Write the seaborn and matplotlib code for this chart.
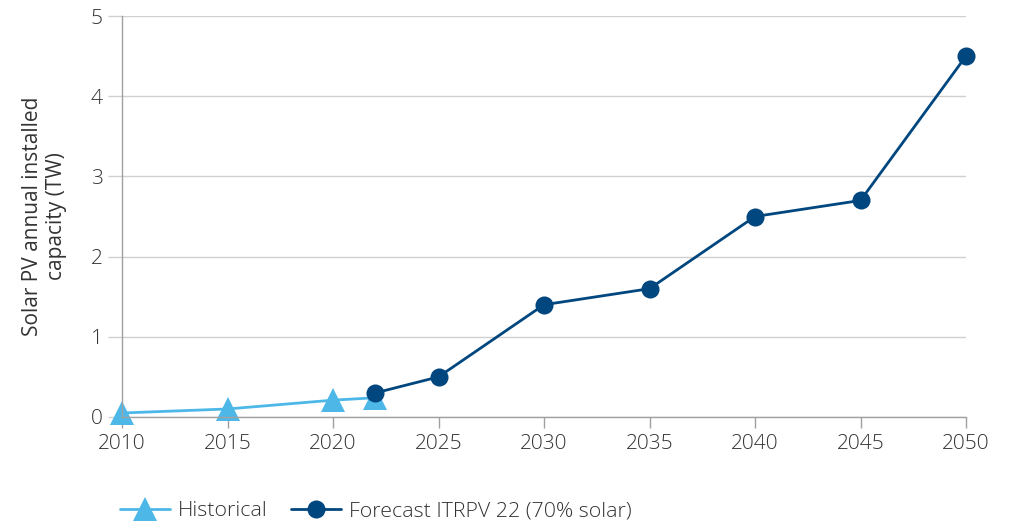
import seaborn as sns
import matplotlib.pyplot as plt
import pandas as pd

# valores
hist_years = [2010, 2015, 2020, 2022]
hist_tw = [0.05, 0.1, 0.21, 0.24]
fc_years = [2022, 2025, 2030, 2035, 2040, 2045, 2050]
fc_tw = [0.3, 0.5, 1.4, 1.6, 2.5, 2.7, 4.5]
x_ticks = [2010, 2015, 2020, 2025, 2030, 2035, 2040, 2045, 2050]
y_ticks = [0, 1, 2, 3, 4, 5]

light_blue = "#4db8e8"
navy = "#00467f"
text_col = "#333333"
axis_col = "#a0a0a0"

sns.set_theme(style="white")
plt.rcParams['font.family'] = ['Open Sans', 'DejaVu Sans']
plt.rcParams['font.weight'] = 300

df_hist = pd.DataFrame({"year": hist_years, "tw": hist_tw})
df_fc = pd.DataFrame({"year": fc_years, "tw": fc_tw})

fig = plt.figure(figsize=(10.11, 5.21), dpi=100)
ax = fig.add_axes([122 / 1011, 1 - 417 / 521, (966 - 122) / 1011, (417 - 16) / 521])

sns.lineplot(data=df_hist, x="year", y="tw", ax=ax, color=light_blue, linewidth=2,
             marker="^", markersize=17, markeredgewidth=0, label="Historical", clip_on=False)
sns.lineplot(data=df_fc, x="year", y="tw", ax=ax, color=navy, linewidth=2,
             marker="o", markersize=13, markeredgewidth=0,
             label="Forecast ITRPV 22 (70% solar)", clip_on=False)

ax.set_xlim(2010, 2050)
ax.set_ylim(0, 5)
ax.set_xticks(x_ticks)
ax.set_yticks(y_ticks)
ax.yaxis.grid(True, color="#d0d0d0", linewidth=1)
ax.xaxis.grid(False)
for s in ["top", "right"]:
    ax.spines[s].set_visible(False)
for s in ["left", "bottom"]:
    ax.spines[s].set_color(axis_col)
    ax.spines[s].set_linewidth(1)
ax.tick_params(axis="x", direction="out", length=8, color=axis_col, width=1,
               labelsize=15, labelcolor=text_col, pad=4)
ax.tick_params(axis="y", direction="out", length=10, color="#d0d0d0", width=1,
               labelsize=15, labelcolor=text_col, pad=4)
ax.tick_params(bottom=True, left=True)

ax.set_xlabel("")
ax.set_ylabel("Solar PV annual installed\ncapacity (TW)", fontsize=15, color=text_col,
              labelpad=17)

ax.legend(loc="center left", bbox_to_anchor=(-0.002, -0.235), ncol=2, frameon=False,
          fontsize=15.4, labelcolor=text_col, handlelength=2.3, handletextpad=0.4,
          columnspacing=1.1, borderaxespad=0, borderpad=0)

fig.savefig("out.png", dpi=100)
